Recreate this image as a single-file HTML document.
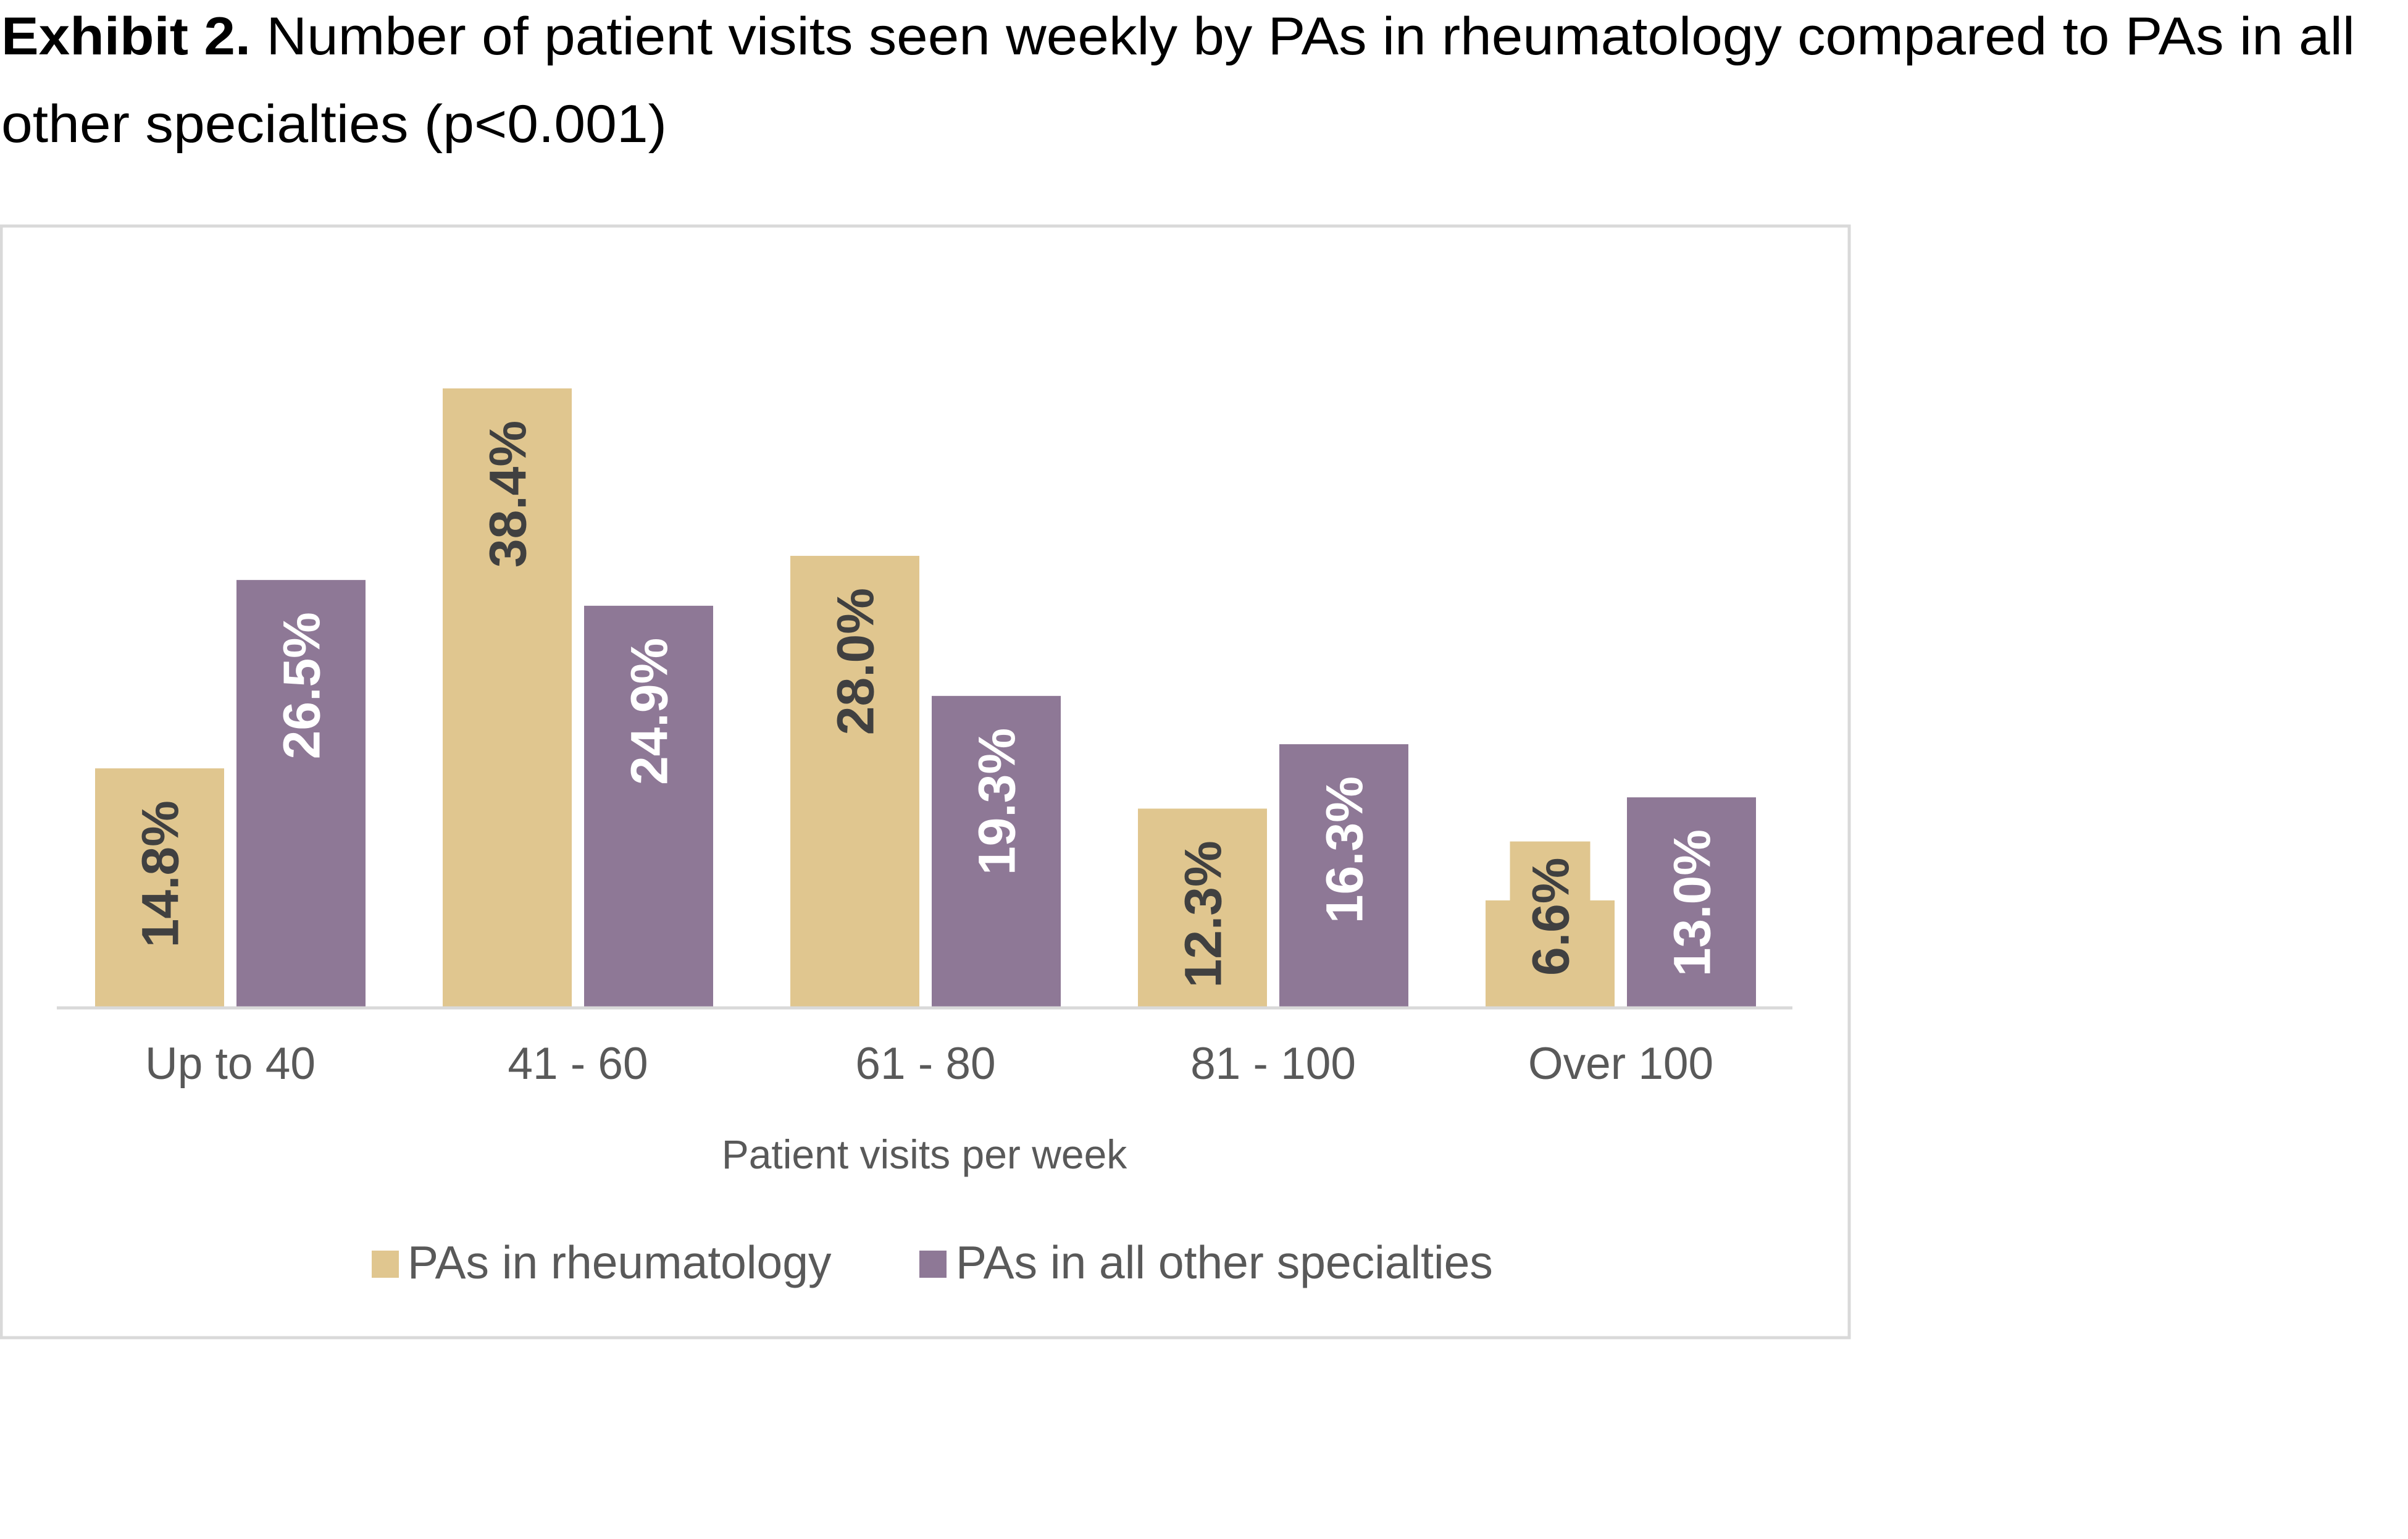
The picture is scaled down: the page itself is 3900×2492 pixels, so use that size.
<!DOCTYPE html>
<html><head><meta charset="utf-8"><style>
html,body{margin:0;padding:0;background:#fff;}
svg{display:block;}
</style></head><body>
<svg id="chart" width="3900" height="2492" viewBox="0 0 3900 2492" xmlns="http://www.w3.org/2000/svg" font-family="'Liberation Sans', sans-serif">
  <g font-size="86" fill="#000">
    <text x="2" y="88" textLength="3812" lengthAdjust="spacingAndGlyphs"><tspan font-weight="bold">Exhibit 2.</tspan> Number of patient visits seen weekly by PAs in rheumatology compared to PAs in all</text>
    <text x="2" y="230" textLength="1078" lengthAdjust="spacingAndGlyphs">other specialties (p&lt;0.001)</text>
  </g>
  <rect x="2" y="366" width="2993" height="1800" fill="#fff" stroke="#d9d9d9" stroke-width="5"/>
  <g id="bars"></g>
  <line x1="92" y1="1632" x2="2903" y2="1632" stroke="#d9d9d9" stroke-width="5"/>
  <g id="cats"></g>
  <text x="1497" y="1892" font-size="66" fill="#595959" text-anchor="middle">Patient visits per week</text>
  <g font-size="75" fill="#595959">
    <rect x="602" y="2025" width="44" height="44" fill="#E0C68F"/>
    <text x="660" y="2070">PAs in rheumatology</text>
    <rect x="1489" y="2025" width="44" height="44" fill="#8E7896"/>
    <text x="1548" y="2070">PAs in all other specialties</text>
  </g>
</svg>
<script>
const categories = ["Up to 40", "41 - 60", "61 - 80", "81 - 100", "Over 100"];
const rheumValues = [14.8, 38.4, 28.0, 12.3, 6.6];
const otherValues = [26.5, 24.9, 19.3, 16.3, 13.0];

const NS = "http://www.w3.org/2000/svg";
const baseY = 1630, perPct = 26.07, firstX = 154, groupStep = 563, barW = 209, barGap = 20;
function yScale(v){ return baseY - v * perPct; }
function xScale(i, s){ return firstX + i * groupStep + s * (barW + barGap); }
const bars = document.getElementById('bars');
const cats = document.getElementById('cats');
const series = [
  {vals: rheumValues, fill: "#E0C68F", text: "#404040", name: "rheumatology"},
  {vals: otherValues, fill: "#8E7896", text: "#ffffff", name: "other"}
];
series.forEach((s, si) => {
  s.vals.forEach((v, i) => {
    const x = xScale(i, si), y = yScale(v);
    const r = document.createElementNS(NS, 'rect');
    
    
    r.setAttribute('x', x); r.setAttribute('y', y);
    r.setAttribute('width', barW); r.setAttribute('height', baseY - y);
    r.setAttribute('fill', s.fill);
    bars.appendChild(r);
    const t = document.createElementNS(NS, 'text');
    
    
    t.textContent = v.toFixed(1) + '%';
    t.setAttribute('font-size', '84');
    t.setAttribute('font-weight', 'bold');
    t.setAttribute('fill', s.text);
    t.setAttribute('text-anchor', 'end');
    bars.appendChild(t);
    const L = t.getComputedTextLength();
    const cx = x + barW / 2 + 30;
    let endY = y + 52;
    if (L + 80 > baseY - y) {
      const boxBottom = baseY - 24, boxTop = boxBottom - L - 52;
      const b = document.createElementNS(NS, 'rect');
      
      
      b.setAttribute('x', x + barW / 2 - 65); b.setAttribute('y', boxTop);
      b.setAttribute('width', 130); b.setAttribute('height', boxBottom - boxTop);
      b.setAttribute('fill', s.fill);
      bars.insertBefore(b, t);
      endY = boxTop + 26;
    }
    t.setAttribute('transform', 'translate(' + cx + ',' + endY + ') rotate(-90)');
  });
});
categories.forEach((c, i) => {
  const t = document.createElementNS(NS, 'text');
  
  
  t.textContent = c;
  t.setAttribute('x', xScale(i, 0) + barW + barGap / 2);
  t.setAttribute('y', 1747);
  t.setAttribute('font-size', '73');
  t.setAttribute('fill', '#595959');
  t.setAttribute('text-anchor', 'middle');
  cats.appendChild(t);
});
</script>
</body></html>
